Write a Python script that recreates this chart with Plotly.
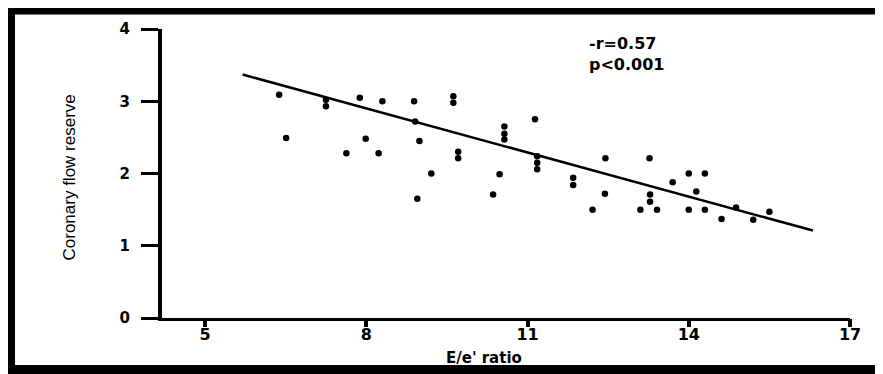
import plotly.graph_objects as go

# ---- data ----
ee_ratio = [6.38, 6.51, 7.25, 7.25, 7.63, 7.88, 7.99, 8.30, 8.23, 8.89, 8.91, 8.99,
            8.95, 9.21, 9.62, 9.62, 9.71, 9.71, 10.36, 10.48, 10.57, 10.57, 10.57,
            11.14, 11.18, 11.18, 11.18, 11.85, 11.85, 12.21, 12.45, 12.44, 13.10,
            13.27, 13.28, 13.28, 13.41, 13.70, 14.00, 14.30, 14.14, 14.00, 14.30,
            14.61, 14.88, 15.20, 15.50]
cfr = [3.09, 2.49, 3.02, 2.93, 2.28, 3.05, 2.48, 3.00, 2.28, 3.00, 2.72, 2.45,
       1.65, 2.00, 3.07, 2.98, 2.30, 2.21, 1.71, 1.99, 2.65, 2.55, 2.47,
       2.75, 2.24, 2.15, 2.06, 1.94, 1.84, 1.50, 2.21, 1.72, 1.50,
       2.21, 1.71, 1.61, 1.50, 1.88, 2.00, 2.00, 1.75, 1.50, 1.50,
       1.37, 1.53, 1.36, 1.47]

fit_x = [5.70, 16.31]
fit_y = [3.37, 1.21]

x_ticks = [5, 8, 11, 14, 17]
x_labels = ["5", "8", "11", "14", "17"]
y_ticks = [0, 1, 2, 3, 4]

stat_text = "-r=0.57<br>p&lt;0.001"
x_title = "E/e' ratio"
y_title = "Coronary flow reserve"

# ---- layout geometry (pixels); page body adds an 8px offset ----
OFF = 8
W, H = 883 - OFF, 374 - OFF
L, R, T, B = 162 - OFF, 33, 29 - OFF, 56
PW, PH = W - L - R, H - T - B


def px(x):
    """reference-screen x pixel -> paper coordinate"""
    return (x - OFF - L) / PW


def py(y):
    """reference-screen y pixel -> paper coordinate"""
    return (H - B - (y - OFF)) / PH


bold = "DejaVu Sans"
x_range = [4.2, 17]

fig = go.Figure()
fig.add_trace(go.Scatter(x=fit_x, y=fit_y, mode="lines", xaxis="x2",
                         line=dict(color="black", width=2.5), hoverinfo="skip"))
fig.add_trace(go.Scatter(x=ee_ratio, y=cfr, mode="markers",
                         marker=dict(color="black", size=6.5, line=dict(width=0))))

fig.update_layout(
    width=W, height=H,
    margin=dict(l=L, r=R, t=T, b=B, pad=0),
    paper_bgcolor="white", plot_bgcolor="white",
    showlegend=False,
    # labels only (close to the axis line)
    xaxis=dict(range=x_range, tickmode="array", tickvals=x_ticks, ticktext=x_labels,
               ticks="outside", ticklen=0, ticklabeloverflow="allow",
               tickcolor="rgba(0,0,0,0)", showline=True, linewidth=3,
               linecolor="black", showgrid=False, zeroline=False,
               tickfont=dict(family=bold, size=16, color="black", weight="bold")),
    # tick marks only
    xaxis2=dict(range=x_range, matches="x", overlaying="x", side="bottom",
                anchor="y", tickvals=x_ticks, ticks="outside", ticklen=8,
                tickwidth=4, tickcolor="black", showticklabels=False,
                showline=False, showgrid=False, zeroline=False),
    yaxis=dict(range=[0, 4], tickvals=y_ticks, ticks="outside", ticklen=17,
               tickwidth=3, tickcolor="black", showline=True, linewidth=4,
               linecolor="black", showgrid=False, zeroline=False,
               ticklabelstandoff=8,
               tickfont=dict(family=bold, size=15, color="black", weight="bold")),
)

annos = [
    dict(text=stat_text, x=px(587), y=py(54), xanchor="left", yanchor="middle",
         align="left",
         font=dict(family=bold, size=16, color="black", weight="bold")),
    dict(text=x_title, x=px(484), y=py(358), xanchor="center", yanchor="middle",
         font=dict(family=bold, size=15, color="black", weight="bold")),
    dict(text=y_title, x=px(69), y=py(177.5), xanchor="center", yanchor="middle",
         textangle=-90,
         font=dict(family="Liberation Sans Narrow, Liberation Sans, Arial", size=17,
                   color="black")),
]
for a in annos:
    fig.add_annotation(xref="paper", yref="paper", showarrow=False, **a)

# outer black frame (left, top, bottom edges visible)
fig.add_shape(type="rect", xref="paper", yref="paper",
              x0=px(10.5), x1=px(900), y0=py(10), y1=py(369.5),
              line=dict(color="black", width=9), fillcolor="rgba(0,0,0,0)")

fig.write_html("out.html")
